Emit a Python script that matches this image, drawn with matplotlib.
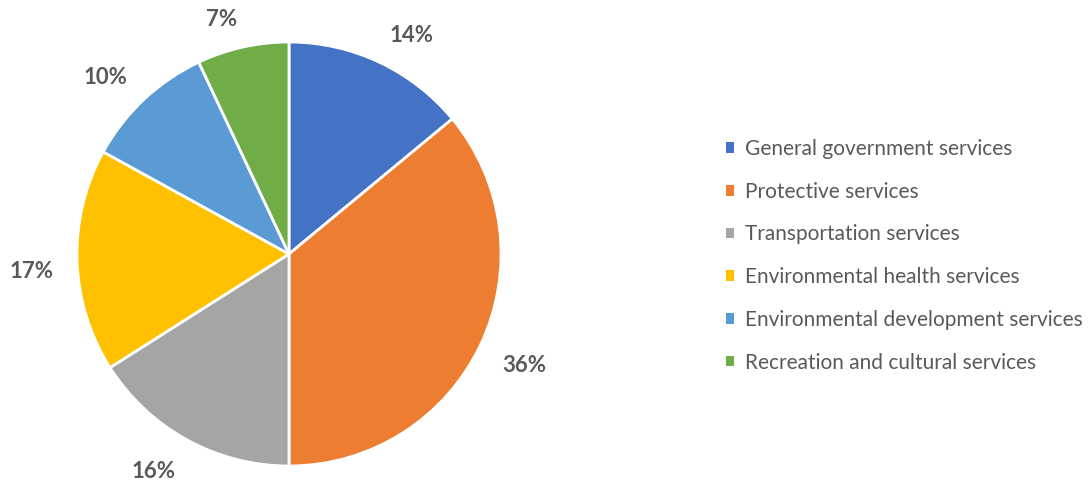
import numpy as np
import matplotlib
matplotlib.use("Agg")
import matplotlib.pyplot as plt
from matplotlib.patches import Patch

categories = ["General government services", "Protective services", "Transportation services",
              "Environmental health services", "Environmental development services",
              "Recreation and cultural services"]
values = [14, 36, 16, 17, 10, 7]
colors = ["#4472C4", "#ED7D31", "#A5A5A5", "#FFC000", "#5B9BD5", "#70AD47"]

plt.rcParams['font.family'] = ['Lato', 'DejaVu Sans']

W, H = 1091, 487
fig = plt.figure(figsize=(W / 100, H / 100), dpi=100)
cx, cy, r = 289, 254, 212
ax = fig.add_axes([(cx - r) / W, (H - cy - r) / H, 2 * r / W, 2 * r / H])
wedges, texts, autotexts = ax.pie(values, colors=colors, startangle=90, counterclock=False,
                                  radius=1, autopct='%1.0f%%', pctdistance=1.19,
                                  wedgeprops=dict(edgecolor='white', linewidth=2),
                                  textprops=dict(fontsize=16, fontweight='bold', color='#595959'))
ax.set_xlim(-1, 1)
ax.set_ylim(-1, 1)
ax.set_aspect('equal')
ax.axis('off')

# Best-fit style label placement: nearest corner of the label box sits a gap outside the pie
fig.canvas.draw()
renderer = fig.canvas.get_renderer()
gap = 0.113
for w, t in zip(wedges, autotexts):
    ang = np.deg2rad((w.theta1 + w.theta2) / 2)
    ux, uy = np.cos(ang), np.sin(ang)
    bb = t.get_window_extent(renderer)
    hw = bb.width / 2 / r
    hh = bb.height * 0.36 / r
    px = (1 + gap) * ux + np.sign(ux) * hw
    py = (1 + gap) * uy + np.sign(uy) * hh - 3 / r
    t.set_position((px, py))
    t.set_ha('center')
    t.set_va('center')

handles = [Patch(facecolor=c, edgecolor='none') for c in colors]
fig.legend(handles, categories, loc='upper left', bbox_to_anchor=(726 / W, 1 - 139 / H),
           frameon=False, fontsize=15, handlelength=0.4, handleheight=0.4, handletextpad=0.5,
           labelspacing=1.09, borderpad=0, borderaxespad=0, labelcolor='#595959')

fig.savefig("out.png", dpi=100)
